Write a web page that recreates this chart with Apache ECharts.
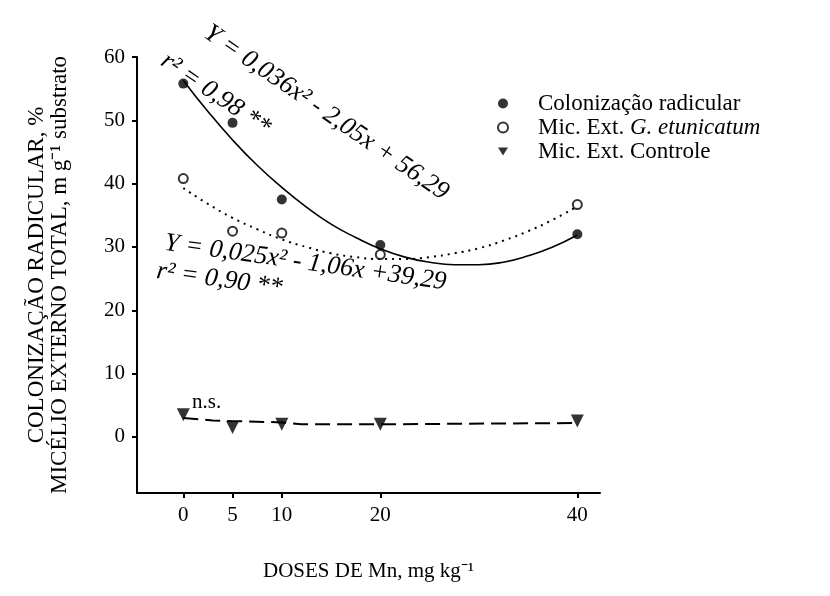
<!DOCTYPE html>
<html>
<head>
<meta charset="utf-8">
<script src="https://cdn.jsdelivr.net/npm/echarts@6/dist/echarts.min.js"></script>
<style>
  html, body { margin: 0; padding: 0; background: #fff; }
  #chart { width: 830px; height: 596px; }
</style>
</head>
<body>
<div id="chart"></div>
<script>
// doses de Mn (mg/kg)
var doses = [0, 5, 10, 20, 40];
var xTicks = [0, 5, 10, 20, 40];
var yTicks = [0, 10, 20, 30, 40, 50, 60];

// pontos observados
var colonizacao = [55.8, 49.6, 37.5, 30.3, 32.0];
var micEtunicatum = [40.8, 32.5, 32.2, 28.8, 36.7];
var micControle = [3.5, 1.5, 2.0, 2.0, 2.5];

// curvas ajustadas
var curvaX = [0, 2.5, 5, 7.5, 10, 12.5, 15, 17.5, 20, 22.5, 25, 27.5, 30, 32.5, 35, 37.5, 40];
var curvaColon = [56.3, 51.4, 46.9, 42.9, 39.4, 36.3, 33.6, 31.5, 29.7, 28.4, 27.6, 27.2, 27.2, 27.6, 28.6, 30.0, 31.9];
var curvaEtun = [39.3, 36.8, 34.6, 32.8, 31.2, 30.0, 29.0, 28.4, 28.1, 28.1, 28.4, 29.0, 29.8, 31.0, 32.5, 34.3, 36.4];
var controleX = [0, 3, 5, 10, 12, 20, 40];
var curvaControle = [3.0, 2.6, 2.5, 2.3, 2.0, 2.0, 2.2];

var pairs = function (xs, ys) {
    var out = [];
    for (var i = 0; i < xs.length; i++) {
        out.push([xs[i], ys[i]]);
    }
    return out;
};

var serif = "'Liberation Serif', 'Times New Roman', serif";
var chart = echarts.init(document.getElementById('chart'));

var option = {
    backgroundColor: '#fff',
    animation: false,
    textStyle: { fontFamily: serif, color: '#000' },
    grid: { left: 137, right: 230, top: 57, bottom: 103 },
    legend: {
        orient: 'vertical',
        left: 492,
        top: 87,
        itemGap: 1,
        itemWidth: 10,
        itemHeight: 10,
        textStyle: {
            fontFamily: serif, fontSize: 23, lineHeight: 23, color: '#000', padding: [0, 0, 0, 25],
            rich: {
                it: { fontFamily: serif, fontSize: 23, lineHeight: 23, fontStyle: 'italic', color: '#000' }
            }
        },
        formatter: function (name) {
            if (name === 'Mic. Ext. G. etunicatum') {
                return 'Mic. Ext. {it|G. etunicatum}';
            }
            return name;
        },
        data: [
            { name: 'Colonização radicular', icon: 'circle', itemStyle: { color: '#000', borderWidth: 0 } },
            { name: 'Mic. Ext. G. etunicatum', icon: 'circle', itemStyle: { color: '#fff', borderColor: '#000', borderWidth: 2 } },
            { name: 'Mic. Ext. Controle', icon: 'path://M0,0L10,0L5,8Z', itemStyle: { color: '#000', borderWidth: 0 } }
        ]
    },
    xAxis: {
        type: 'value',
        min: -4.7,
        max: 42.3,
        name: 'DOSES DE Mn, mg kg⁻¹',
        nameLocation: 'middle',
        nameGap: 68,
        nameTextStyle: { fontFamily: serif, fontSize: 21, color: '#000' },
        axisLine: { show: true, onZero: false, lineStyle: { color: '#000', width: 2 } },
        axisTick: { show: true, customValues: xTicks, length: 5, lineStyle: { color: '#000', width: 2 } },
        axisLabel: { customValues: xTicks, margin: 12, fontFamily: serif, fontSize: 21, color: '#000' },
        splitLine: { show: false }
    },
    yAxis: {
        type: 'value',
        min: -8.85,
        max: 60,
        name: 'COLONIZAÇÃO RADICULAR, %\nMICÉLIO EXTERNO TOTAL, m g⁻¹ substrato',
        nameLocation: 'middle',
        nameRotate: 90,
        nameGap: 66,
        nameTextStyle: { fontFamily: serif, fontSize: 23, color: '#000', lineHeight: 23 },
        axisLine: { show: true, onZero: false, lineStyle: { color: '#000', width: 2 } },
        axisTick: { show: true, customValues: yTicks, length: 5, lineStyle: { color: '#000', width: 2 } },
        axisLabel: { customValues: yTicks, margin: 12, fontFamily: serif, fontSize: 21, color: '#000' },
        splitLine: { show: false }
    },
    graphic: [
        {
            type: 'text', left: 199, top: 20, rotation: -0.6,
            style: { text: 'Y = 0,036x² - 2,05x + 56,29', font: 'italic 26px ' + serif, fill: '#000' }
        },
        {
            type: 'text', left: 156, top: 48, rotation: -0.6,
            style: { text: 'r² = 0,98 **', font: 'italic 26px ' + serif, fill: '#000' }
        },
        {
            type: 'text', left: 163, top: 230, rotation: -0.14,
            style: { text: 'Y = 0,025x² - 1,06x +39,29', font: 'italic 26px ' + serif, fill: '#000' }
        },
        {
            type: 'text', left: 155, top: 258, rotation: -0.14,
            style: { text: 'r² = 0,90 **', font: 'italic 26px ' + serif, fill: '#000' }
        },
        {
            type: 'text', left: 192, top: 392,
            style: { text: 'n.s.', font: '21px ' + serif, fill: '#000' }
        }
    ],
    series: [
        {
            name: 'fit colon', type: 'line', smooth: true, symbol: 'none',
            lineStyle: { color: '#000', width: 1.6 },
            data: pairs(curvaX, curvaColon), z: 2
        },
        {
            name: 'fit etun', type: 'line', smooth: true, symbol: 'none',
            lineStyle: { color: '#000', width: 2, type: [2, 5] },
            data: pairs(curvaX, curvaEtun), z: 2
        },
        {
            name: 'fit controle', type: 'line', smooth: false, symbol: 'none',
            lineStyle: { color: '#000', width: 2, type: [15, 7] },
            data: pairs(controleX, curvaControle), z: 2
        },
        {
            name: 'Colonização radicular', type: 'scatter', symbol: 'circle', symbolSize: 10,
            itemStyle: { color: '#000' },
            data: pairs(doses, colonizacao), z: 3
        },
        {
            name: 'Mic. Ext. G. etunicatum', type: 'scatter', symbol: 'circle', symbolSize: 9,
            itemStyle: { color: '#fff', borderColor: '#000', borderWidth: 2 },
            data: pairs(doses, micEtunicatum), z: 3
        },
        {
            name: 'Mic. Ext. Controle', type: 'scatter', symbol: 'triangle', symbolRotate: 180, symbolSize: 13,
            itemStyle: { color: '#000' },
            data: pairs(doses, micControle), z: 3
        }
    ]
};

chart.setOption(option);
</script>
</body>
</html>
